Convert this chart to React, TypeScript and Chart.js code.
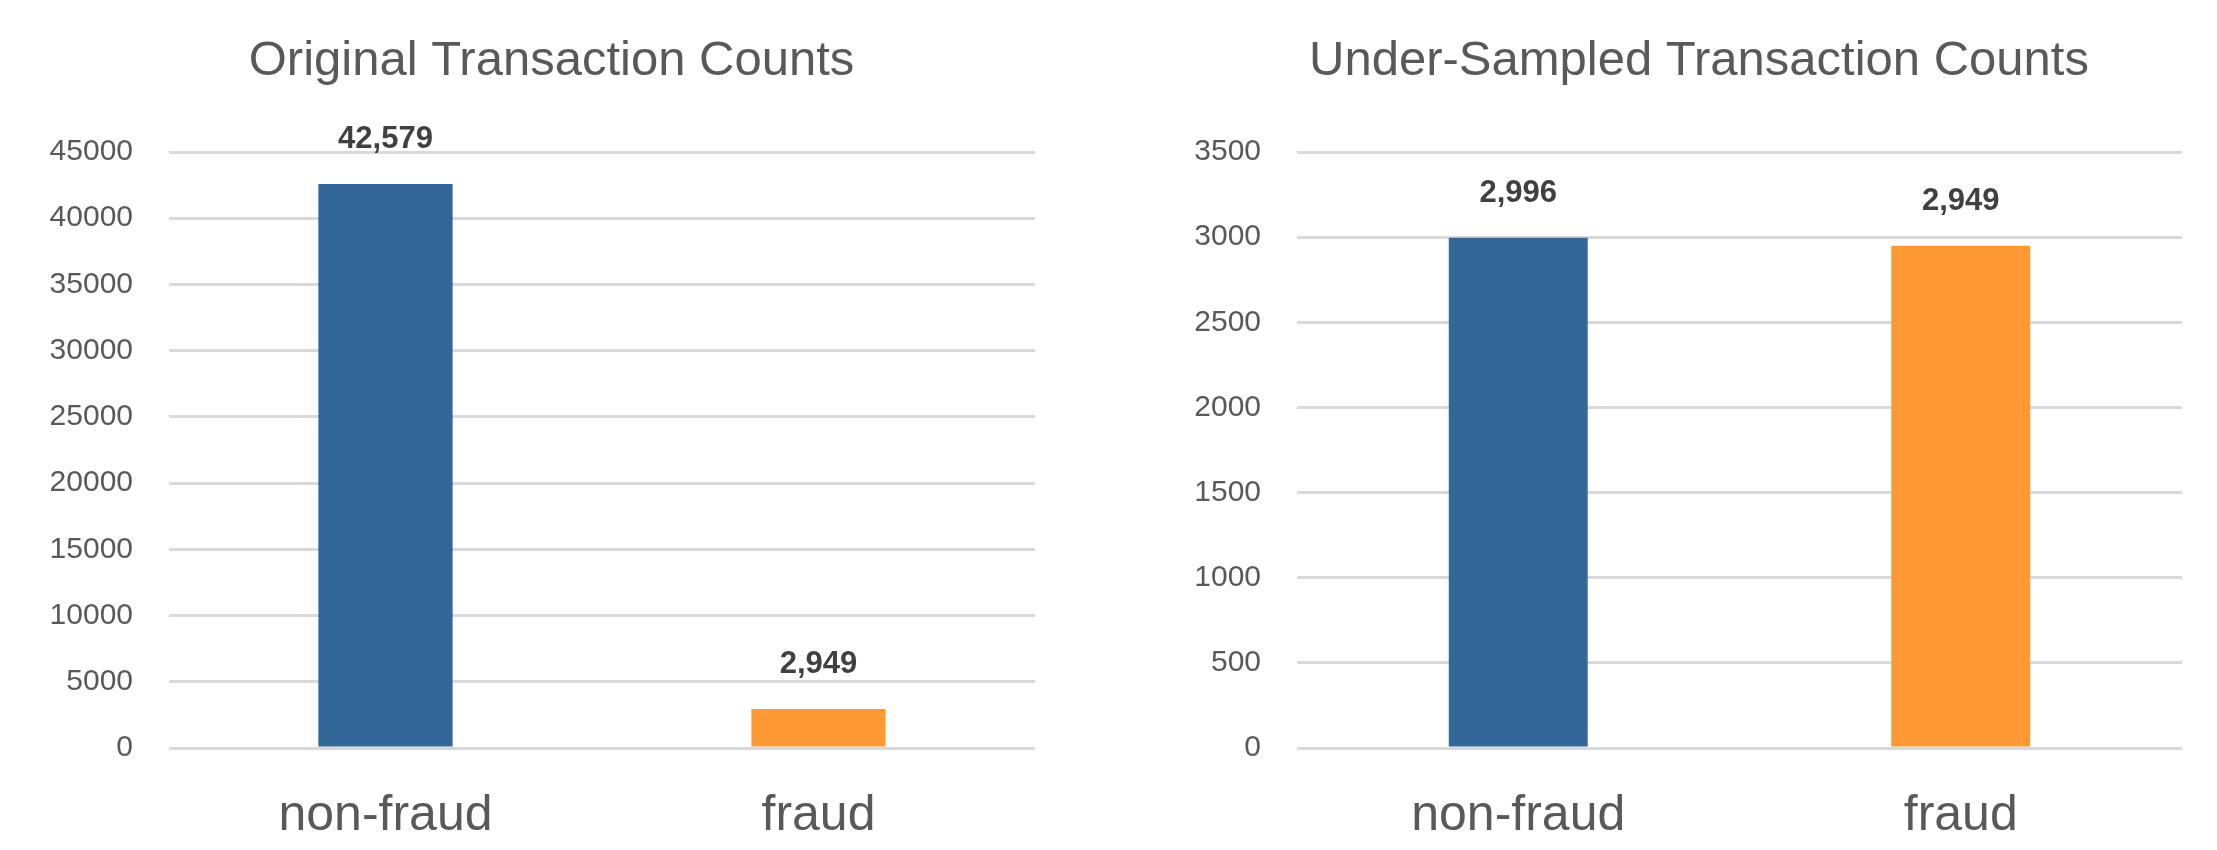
import React, { useEffect, useRef } from "react";
import { Chart, registerables } from "chart.js";

Chart.register(...registerables);

// ---- data ----
const categories = ["non-fraud", "fraud"];
const originalCounts = [42579, 2949];
const underSampledCounts = [2996, 2949];
const barColors = ["#336699", "#ff9933"];
const originalTicks = [0, 5000, 10000, 15000, 20000, 25000, 30000, 35000, 40000, 45000];
const underSampledTicks = [0, 500, 1000, 1500, 2000, 2500, 3000, 3500];
const originalTitle = "Original Transaction Counts";
const underSampledTitle = "Under-Sampled Transaction Counts";

const FONT = "'Liberation Sans', Arial, sans-serif";

type Props = {
  title: string;
  titleX: number;
  values: number[];
  ticks: number[];
  left: number;
  width: number;
  padRight: number;
  yWidth: number;
  barPct: number;
};

function BarChart(p: Props) {
  const ref = useRef<HTMLCanvasElement | null>(null);
  useEffect(() => {
    if (!ref.current) return;
    const valueLabels = {
      id: "valueLabels",
      afterDatasetsDraw(chart: any) {
        const ctx = chart.ctx;
        const meta = chart.getDatasetMeta(0);
        ctx.save();
        ctx.font = `bold 31px ${FONT}`;
        ctx.fillStyle = "#404040";
        ctx.textAlign = "center";
        ctx.textBaseline = "alphabetic";
        meta.data.forEach((bar: any, i: number) => {
          const v = chart.data.datasets[0].data[i] as number;
          ctx.fillText(v.toLocaleString("en-US"), bar.x, bar.y - 36);
        });
        ctx.restore();
      },
    };
    const chartTitle = {
      id: "chartTitle",
      afterDraw(chart: any) {
        const ctx = chart.ctx;
        ctx.save();
        ctx.font = `49px ${FONT}`;
        ctx.fillStyle = "#595959";
        ctx.textAlign = "center";
        ctx.textBaseline = "alphabetic";
        ctx.fillText(p.title, p.titleX, 75);
        ctx.restore();
      },
    };
    const chart = new Chart(ref.current, {
      type: "bar",
      data: {
        labels: categories,
        datasets: [
          {
            data: p.values,
            backgroundColor: barColors,
            borderWidth: 0,
            categoryPercentage: 1,
            barPercentage: p.barPct,
          },
        ],
      },
      options: {
        animation: false,
        responsive: false,
        maintainAspectRatio: false,
        layout: { padding: { left: 0, right: p.padRight, top: 152, bottom: 0 } },
        plugins: {
          legend: { display: false },
          tooltip: { enabled: false },
          title: { display: false },
        },
        scales: {
          x: {
            grid: { display: false },
            border: { display: false },
            ticks: {
              color: "#595959",
              font: { family: FONT, size: 50 },
              padding: 30,
              maxRotation: 0,
            },
            afterFit: (s: any) => {
              s.height = 102;
            },
          },
          y: {
            min: 0,
            max: p.ticks[p.ticks.length - 1],
            border: { display: false },
            grid: { color: "#d9d9d9", lineWidth: 3, drawTicks: false },
            ticks: {
              color: "#595959",
              font: { family: FONT, size: 30 },
              padding: 36,
              callback: (v: any) => String(v),
            },
            afterBuildTicks: (s: any) => {
              s.ticks = p.ticks.map((v) => ({ value: v }));
            },
            afterFit: (s: any) => {
              s.width = p.yWidth;
            },
          },
        },
      },
      plugins: [valueLabels, chartTitle],
    } as any);
    return () => chart.destroy();
  }, []);
  return (
    <canvas
      ref={ref}
      width={p.width}
      height={850}
      style={{ position: "absolute", left: p.left, top: 0, width: p.width, height: 850 }}
    />
  );
}

export default function App() {
  return (
    <div style={{ position: "absolute", left: 0, top: 0, width: 2217, height: 850, background: "#ffffff" }}>
      <BarChart
        title={originalTitle}
        titleX={551.5}
        values={originalCounts}
        ticks={originalTicks}
        left={0}
        width={1108}
        padRight={73}
        yWidth={169}
        barPct={0.31}
      />
      <BarChart
        title={underSampledTitle}
        titleX={1699 - 1110}
        values={underSampledCounts}
        ticks={underSampledTicks}
        left={1110}
        width={1107}
        padRight={35}
        yWidth={187}
        barPct={0.314}
      />
    </div>
  );
}
